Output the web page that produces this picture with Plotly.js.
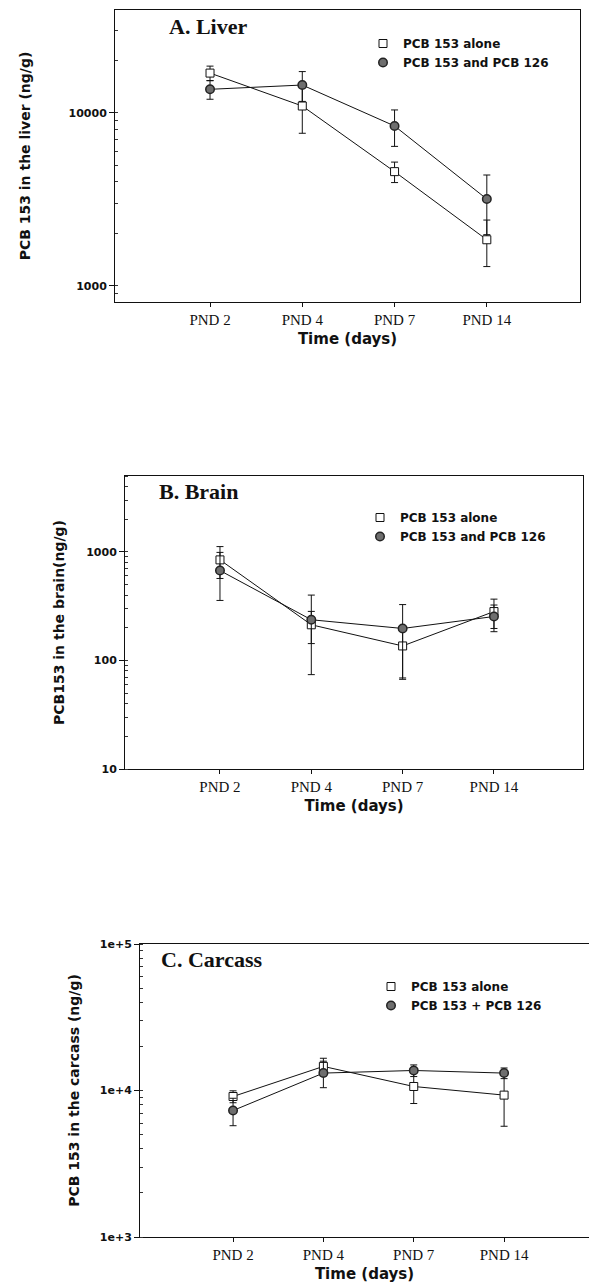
<!DOCTYPE html>
<html><head><meta charset="utf-8">
<script src="https://cdn.plot.ly/plotly-3.0.1.min.js"></script>
<style>html,body{margin:0;padding:0;background:#fff;} #chart{width:589px;height:1287px;}</style>
</head><body><div id="chart"></div>
<script>
// ---- data ----
const days = ['PND 2', 'PND 4', 'PND 7', 'PND 14'];

const liverAlone = [17000, 10970, 4580, 1850];
const liverAloneErr = [1650, 3340, 620, 555];
const liverCombo = [13700, 14500, 8410, 3180];
const liverComboErr = [1700, 2840, 2000, 1200];

const brainAlone = [844, 213, 136, 282];
const brainAloneErr = [275, 70, 67, 85];
const brainCombo = [673, 237, 197, 254];
const brainComboErr = [316, 163, 130, 70];

const carcassAlone = [9100, 14600, 10650, 9300];
const carcassAloneErr = [850, 2000, 2500, 3600];
const carcassCombo = [7300, 13150, 13700, 13150];
const carcassComboErr = [1550, 2700, 1250, 1100];

const panelTitles = ['A. Liver', 'B. Brain', 'C. Carcass'];
const yTitles = ['PCB 153 in the liver (ng/g)', 'PCB153 in the brain(ng/g)', 'PCB 153 in the carcass (ng/g)'];
const xTitle = 'Time (days)';
const aloneNames = ['PCB 153 alone', 'PCB 153 alone', 'PCB 153 alone'];
const comboNames = ['PCB 153 and PCB 126', 'PCB 153 and PCB 126', 'PCB 153 + PCB 126'];
const yTickVals = [[1000, 10000], [10, 100, 1000], [1000, 10000, 100000]];
const yTickText = [['1000', '10000'], ['10', '100', '1000'], ['1e+3', '1e+4', '1e+5']];

// ---- layout helpers (pixels -> paper) ----
const W = 589, H = 1287;
const px = v => v / W;
const py = v => 1 - v / H;

const boxes = [
  {l: 115, r: 580, t: 10, b: 302, xr: [-1.03, 4.01], yr: [2.9075, 4.595], mirrorY: true, leg: [363, 29], title: [167, 26], ysd: 34},
  {l: 125, r: 583, t: 476, b: 769, xr: [-1.04, 3.975], yr: [1, 3.699], mirrorY: true, leg: [360, 503], title: [157, 492], ysd: 18},
  {l: 140, r: 589, t: 944, b: 1237, xr: [-1.03, 3.94], yr: [3, 5], mirrorY: false, leg: [371, 972], title: [159, 959], ysd: 16}
];

const series = [
  [liverAlone, liverAloneErr, liverCombo, liverComboErr],
  [brainAlone, brainAloneErr, brainCombo, brainComboErr],
  [carcassAlone, carcassAloneErr, carcassCombo, carcassComboErr]
];

const ink = '#111';
const traces = [];
const layout = {
  width: W, height: H,
  margin: {l: 0, r: 0, t: 0, b: 0},
  paper_bgcolor: '#fff', plot_bgcolor: '#fff',
  showlegend: true,
  annotations: []
};

series.forEach((s, i) => {
  const n = i === 0 ? '' : String(i + 1);
  const xa = 'x' + n, ya = 'y' + n, lg = 'legend' + n;
  const [a, ae, c, ce] = s;
  // connecting lines
  traces.push({x: days, y: a, xaxis: xa, yaxis: ya, type: 'scatter', mode: 'lines',
    line: {color: ink, width: 1}, showlegend: false, hoverinfo: 'skip'});
  traces.push({x: days, y: c, xaxis: xa, yaxis: ya, type: 'scatter', mode: 'lines',
    line: {color: ink, width: 1}, showlegend: false, hoverinfo: 'skip'});
  // markers with error bars
  traces.push({x: days, y: a, xaxis: xa, yaxis: ya, type: 'scatter', mode: 'markers',
    name: aloneNames[i], legend: lg,
    marker: {symbol: 'square', size: 8, color: '#fff', line: {color: ink, width: 1}},
    error_y: {type: 'data', array: ae, visible: true, color: ink, thickness: 1, width: 3.5}});
  traces.push({x: days, y: c, xaxis: xa, yaxis: ya, type: 'scatter', mode: 'markers',
    name: comboNames[i], legend: lg,
    marker: {symbol: 'circle', size: 8.5, color: '#6e6e6e', line: {color: '#222', width: 1.5}},
    error_y: {type: 'data', array: ce, visible: true, color: ink, thickness: 1, width: 3.5}});

  const b = boxes[i];
  layout['xaxis' + n] = {
    domain: [px(b.l), px(b.r)], anchor: ya, type: 'category', categoryarray: days,
    range: b.xr, showgrid: false, zeroline: false,
    showline: true, linecolor: ink, linewidth: 1, mirror: true,
    ticks: 'outside', ticklen: 4, tickcolor: ink,
    tickfont: {family: 'Liberation Serif, Times New Roman, serif', size: 15, color: ink},
    title: {text: xTitle, standoff: 6, font: {family: 'DejaVu Sans, sans-serif', size: 15, weight: 'bold', color: ink}}
  };
  layout['yaxis' + n] = {
    domain: [py(b.b), py(b.t)], anchor: xa, type: 'log', range: b.yr,
    tickmode: 'array', tickvals: yTickVals[i], ticktext: yTickText[i],
    showgrid: false, zeroline: false,
    showline: true, linecolor: ink, linewidth: 1, mirror: b.mirrorY,
    ticks: 'outside', ticklen: 5, tickcolor: ink,
    minor: {ticks: 'inside', ticklen: 3, tickcolor: '#333', dtick: 'D1', showgrid: false},
    tickfont: {family: 'DejaVu Sans, sans-serif', size: 11, weight: 'bold', color: ink},
    title: {text: yTitles[i], standoff: b.ysd, font: {family: 'DejaVu Sans, sans-serif', size: 14, weight: 'bold', color: ink}}
  };
  layout[lg] = {
    x: px(b.leg[0]), y: py(b.leg[1]), xanchor: 'left', yanchor: 'top',
    bgcolor: 'rgba(0,0,0,0)', borderwidth: 0, tracegroupgap: 0,
    font: {family: 'DejaVu Sans, sans-serif', size: 12, weight: 'bold', color: ink}
  };
  layout.annotations.push({
    text: panelTitles[i], xref: 'paper', yref: 'paper',
    x: px(b.title[0]), y: py(b.title[1]), xanchor: 'left', yanchor: 'middle',
    showarrow: false,
    font: {family: 'Liberation Serif, Times New Roman, serif', size: 22, weight: 'bold', color: ink}
  });
});

Plotly.newPlot('chart', traces, layout, {displayModeBar: false, staticPlot: true});
</script>
</body></html>
